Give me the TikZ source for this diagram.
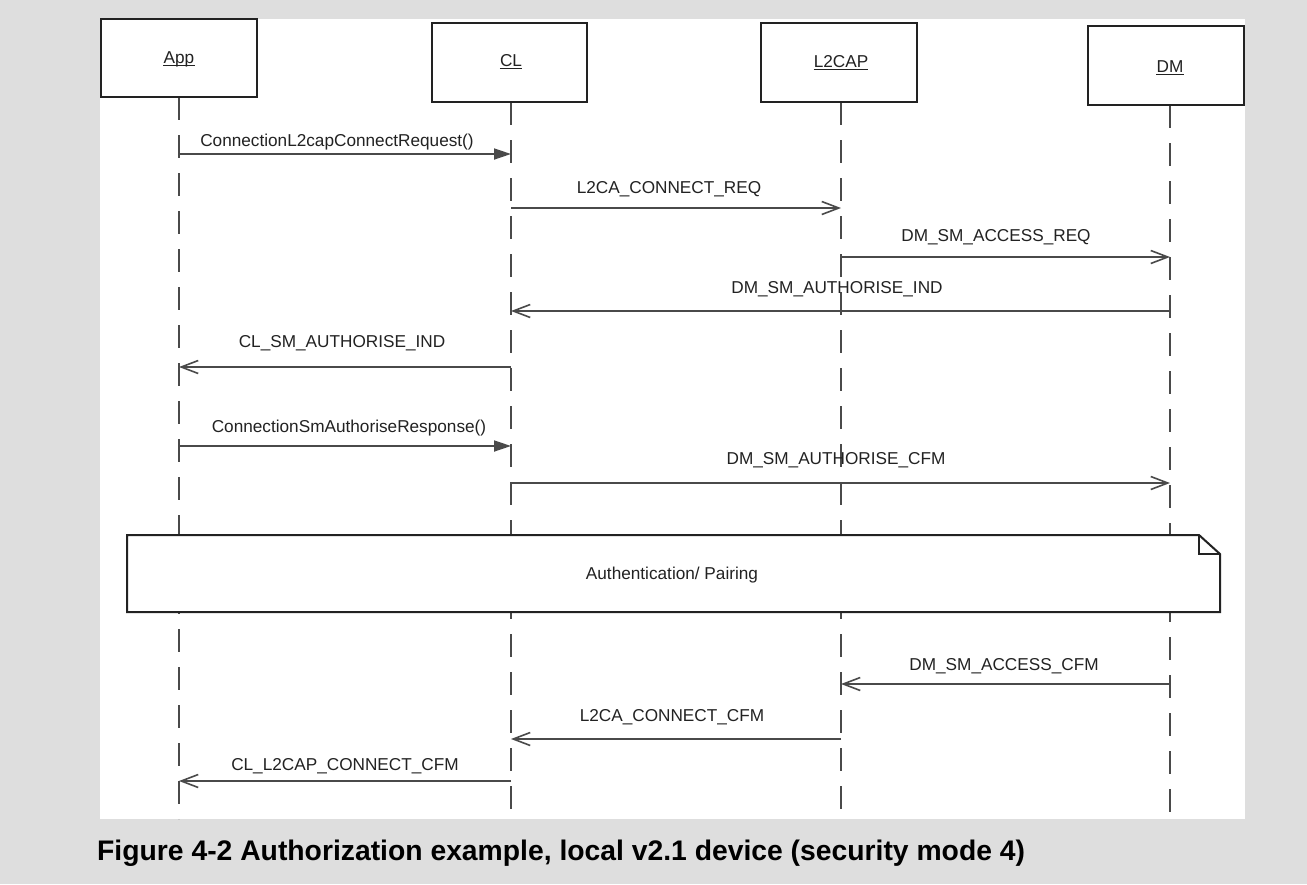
\documentclass[tikz,border=0pt]{standalone}
\usepackage{fontspec}
\setmainfont{Liberation Sans}
\usetikzlibrary{arrows.meta}
\definecolor{bg}{HTML}{DEDEDE}
\definecolor{ink}{HTML}{222222}
\definecolor{wire}{HTML}{4A4A4A}
\begin{document}
\begin{tikzpicture}[x=1pt,y=-1pt,
  actor/.style={draw=ink,line width=2pt,fill=white,rectangle,inner sep=0pt},
  lbl/.style={font=\fontsize{17.2}{20}\selectfont,text=ink,inner sep=0pt,anchor=base},
  life/.style={draw=wire,line width=2pt,dash pattern=on 23pt off 15pt},
  async/.style={draw=wire,line width=1.8pt,-{Straight Barb[length=17pt,width=13pt,line width=1.6pt]}},
  sync/.style={draw=wire,line width=1.8pt,-{Triangle[length=17pt,width=11pt]}},
  ulin/.style={draw=ink,line width=1.2pt},
  notebox/.style={draw=ink,line width=2pt,fill=white,line join=miter},
]
\useasboundingbox (0,0) rectangle (1307,884);
\fill[bg] (0,0) rectangle (1307,884);
\fill[white] (100,19) rectangle (1245,819);

% lifeline anchors
\coordinate (appT) at (179,97);
\coordinate (clT) at (511,102);
\coordinate (l2T) at (841,102);
\coordinate (dmT) at (1170,105);
\coordinate (appB) at (179,819);
\coordinate (clB) at (511,819);
\coordinate (l2B) at (841,819);
\coordinate (dmB) at (1170,819);

\draw[life] (appT) -- (appB);
\draw[life] (clT) -- (clB);
\draw[life] (l2T) -- (l2B);
\draw[life] (dmT) -- (dmB);

% actor boxes
\node[actor,minimum width=156pt,minimum height=78pt] (app) at (179,58) {};
\node[actor,minimum width=155pt,minimum height=79pt] (cl) at (509.5,62.5) {};
\node[actor,minimum width=156pt,minimum height=79pt] (l2) at (839,62.5) {};
\node[actor,minimum width=156pt,minimum height=79pt] (dm) at (1166,65.5) {};

\node[lbl] (appL) at (179,63) {App};
\node[lbl] (clL) at (511,66) {CL};
\node[lbl] (l2L) at (841,67) {L2CAP};
\node[lbl] (dmL) at (1170,72) {DM};
\foreach \n in {appL,clL,l2L,dmL}{
  \draw[ulin] ([yshift=-2.5pt]\n.base west) -- ([yshift=-2.5pt]\n.base east);
}

% messages
\draw[sync]  (appT |- 0,154) -- (clT |- 0,154);
\node[lbl] (m1) at (337,146) {ConnectionL2capConnectRequest()};

\draw[async] (clT |- 0,208) -- (l2T |- 0,208);
\node[lbl] (m2) at (669,193) {L2CA\_CONNECT\_REQ};

\draw[async] (l2T |- 0,257) -- (dmT |- 0,257);
\node[lbl] (m3) at (996,241) {DM\_SM\_ACCESS\_REQ};

\draw[async] (dmT |- 0,311) -- (clT |- 0,311);
\node[lbl] (m4) at (837,293) {DM\_SM\_AUTHORISE\_IND};

\draw[async] (clT |- 0,367) -- (appT |- 0,367);
\node[lbl] (m5) at (342,347) {CL\_SM\_AUTHORISE\_IND};

\draw[sync]  (appT |- 0,446) -- (clT |- 0,446);
\node[lbl] (m6) at (349,432) {ConnectionSmAuthoriseResponse()};

\draw[async] (clT |- 0,483) -- (dmT |- 0,483);
\node[lbl] (m7) at (836,464) {DM\_SM\_AUTHORISE\_CFM};

% note
\draw[notebox] (127,535) -- (1199,535) -- (1220,554) -- (1220,612) -- (127,612) -- cycle;
\draw[notebox,fill=none] (1199,535) -- (1199,554) -- (1220,554);
\node[lbl] (note) at (672,579) {Authentication/ Pairing};

\draw[async] (dmT |- 0,684) -- (l2T |- 0,684);
\node[lbl] (m9) at (1004,670) {DM\_SM\_ACCESS\_CFM};

\draw[async] (l2T |- 0,739) -- (clT |- 0,739);
\node[lbl] (m10) at (672,721) {L2CA\_CONNECT\_CFM};

\draw[async] (clT |- 0,781) -- (appT |- 0,781);
\node[lbl] (m11) at (345,770) {CL\_L2CAP\_CONNECT\_CFM};

% caption
\node[anchor=base west,inner sep=0pt,font=\bfseries\fontsize{28.3}{32}\selectfont,text=black] (cap) at (97,860)
  {Figure 4-2 Authorization example, local v2.1 device (security mode 4)};
\end{tikzpicture}
\end{document}
